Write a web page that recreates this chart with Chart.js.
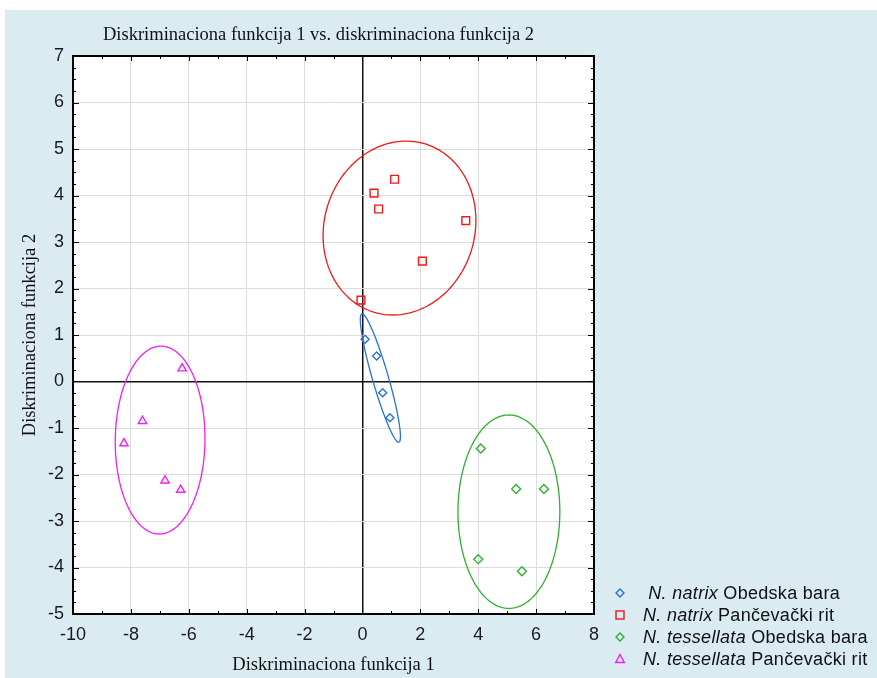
<!DOCTYPE html>
<html>
<head>
<meta charset="utf-8">
<script src="https://cdn.jsdelivr.net/npm/chart.js@4.4.1/dist/chart.umd.min.js"></script>
<style>
html, body { margin: 0; padding: 0; background: #fff; }
#okvir { position: relative; width: 877px; height: 678px; overflow: hidden; }
#grafik { position: absolute; left: 0; top: 0; }
#naslov { position: absolute; left: 103px; top: 24px; font: 18.5px "Liberation Serif", "Times New Roman", serif; line-height: 20px; color: #111; white-space: nowrap; }
#legenda { position: absolute; left: 613px; top: 582px; font: 18px "Liberation Sans", Arial, sans-serif; letter-spacing: 0.3px; color: #111; }
.stavka { height: 22px; line-height: 22px; white-space: pre; display: flex; align-items: center; }
.stavka svg { width: 14px; height: 14px; margin-right: 16px; flex: none; }
</style>
</head>
<body>
<div id="okvir">
  <canvas id="grafik" width="877" height="678"></canvas>
  <div id="naslov">Diskriminaciona funkcija 1 vs. diskriminaciona funkcija 2</div>
  <div id="legenda"></div>
</div>
<script>
// grupe (vrsta u kurzivu + lokalitet)
var vrste = ['N. natrix', 'N. natrix', 'N. tessellata', 'N. tessellata'];
var lokaliteti = ['Obedska bara', 'Pančevački rit', 'Obedska bara', 'Pančevački rit'];
var boje = ['#2a70d6', '#f01818', '#30b030', '#f41cf4'];
var oblici = ['rectRot', 'rect', 'rectRot', 'triangle'];

// skorovi diskriminacionih funkcija
var natrixObedskaX = [0.09, 0.49, 0.70, 0.95];
var natrixObedskaY = [0.91, 0.55, -0.24, -0.78];
var natrixPancevoX = [1.11, 0.40, 0.56, 3.57, 2.07, -0.05];
var natrixPancevoY = [4.35, 4.05, 3.71, 3.46, 2.59, 1.75];
var tessellataObedskaX = [4.09, 5.31, 6.27, 4.00, 5.51];
var tessellataObedskaY = [-1.44, -2.31, -2.31, -3.82, -4.08];
var tessellataPancevoX = [-6.23, -7.60, -8.24, -6.82, -6.28];
var tessellataPancevoY = [0.28, -0.85, -1.33, -2.13, -2.33];

// elipse: centar i dve poluose (u jedinicama funkcija)
var elipsaCentar = [[0.62, 0.075], [1.28, 3.30], [5.06, -2.80], [-6.99, -1.26]];
var elipsaOsaU = [[-0.64, 1.38], [2.63, 0], [1.76, 0], [1.55, 0]];
var elipsaOsaV = [[0.266, 0.047], [0.23, 1.87], [0, 2.08], [0.03, 2.02]];

// ose
var xMin = -10, xMax = 8, xKorak = 2;
var yMin = -5, yMax = 7, yKorak = 1;

var sviX = [natrixObedskaX, natrixPancevoX, tessellataObedskaX, tessellataPancevoX];
var sviY = [natrixObedskaY, natrixPancevoY, tessellataObedskaY, tessellataPancevoY];
var poluprecnici = [4, 5.5, 4.5, 4.8];

var skupovi = sviX.map(function(xs, g) {
    return {
        label: vrste[g] + ' ' + lokaliteti[g],
        data: xs.map(function(x, i) { return { x: x, y: sviY[g][i] }; }),
        pointStyle: oblici[g],
        pointRadius: poluprecnici[g],
        pointHoverRadius: poluprecnici[g],
        pointBorderWidth: 1.4,
        borderColor: boje[g],
        backgroundColor: 'rgba(0,0,0,0)',
        showLine: false
    };
});

var pozadina = {
    id: 'pozadina',
    beforeDraw: function(chart) {
        var ctx = chart.ctx, a = chart.chartArea;
        ctx.save();
        ctx.fillStyle = '#ffffff';
        ctx.fillRect(0, 0, chart.width, chart.height);
        ctx.fillStyle = '#daebf2';
        ctx.fillRect(5, 10, chart.width - 5, chart.height - 10);
        ctx.fillStyle = '#ffffff';
        ctx.fillRect(a.left, a.top, a.right - a.left, a.bottom - a.top);
        ctx.restore();
    }
};

var elipse = {
    id: 'elipse',
    beforeDatasetsDraw: function(chart) {
        var ctx = chart.ctx, sx = chart.scales.x, sy = chart.scales.y, a = chart.chartArea;
        ctx.save();
        ctx.beginPath();
        ctx.rect(a.left, a.top, a.right - a.left, a.bottom - a.top);
        ctx.clip();
        ctx.lineWidth = 1.3;
        elipsaCentar.forEach(function(c, g) {
            var u = elipsaOsaU[g], v = elipsaOsaV[g];
            ctx.strokeStyle = boje[g];
            ctx.beginPath();
            for (var k = 0; k <= 180; k++) {
                var t = k / 180 * Math.PI * 2;
                var x = c[0] + Math.cos(t) * u[0] + Math.sin(t) * v[0];
                var y = c[1] + Math.cos(t) * u[1] + Math.sin(t) * v[1];
                var px = sx.getPixelForValue(x), py = sy.getPixelForValue(y);
                if (k === 0) ctx.moveTo(px, py); else ctx.lineTo(px, py);
            }
            ctx.closePath();
            ctx.stroke();
        });
        ctx.restore();
    }
};

var okvirOsa = {
    id: 'okvirOsa',
    afterDraw: function(chart) {
        var ctx = chart.ctx, sx = chart.scales.x, sy = chart.scales.y, a = chart.chartArea;
        ctx.save();
        ctx.strokeStyle = '#000';
        ctx.lineWidth = 1;
        ctx.beginPath();
        for (var x = xMin; x <= xMax; x++) {
            var px = Math.round(sx.getPixelForValue(x)) + 0.5;
            var d = (x % 2 === 0) ? 5 : 3;
            ctx.moveTo(px, a.bottom); ctx.lineTo(px, a.bottom - d);
            ctx.moveTo(px, a.top); ctx.lineTo(px, a.top + d);
        }
        for (var y = yMin; y <= yMax; y += 0.25) {
            var py = Math.round(sy.getPixelForValue(y)) + 0.5;
            var e = (y % 1 === 0) ? 6 : 3;
            ctx.moveTo(a.left, py); ctx.lineTo(a.left + e, py);
            ctx.moveTo(a.right, py); ctx.lineTo(a.right - e, py);
        }
        ctx.stroke();
        ctx.lineWidth = 2;
        ctx.strokeRect(a.left, a.top, a.right - a.left, a.bottom - a.top);
        ctx.restore();
    }
};

var fontOsa = { family: '"Liberation Sans", Arial, sans-serif', size: 18 };
var fontNaslov = { family: '"Liberation Serif", "Times New Roman", serif', size: 18.5 };

function bojaMreze(c) { return c.tick && c.tick.value === 0 ? '#111' : '#dcdcdc'; }
function debljinaMreze(c) { return c.tick && c.tick.value === 0 ? 1.5 : 1; }

new Chart(document.getElementById('grafik').getContext('2d'), {
    type: 'scatter',
    data: { datasets: skupovi },
    options: {
        responsive: false,
        animation: false,
        layout: { padding: { top: 56, right: 283, bottom: 0, left: 0 } },
        plugins: { legend: { display: false }, tooltip: { enabled: false }, title: { display: false } },
        scales: {
            x: {
                type: 'linear', position: 'bottom', min: xMin, max: xMax,
                afterFit: function(s) { s.height = 64; },
                ticks: { stepSize: xKorak, font: fontOsa, color: '#1a1a1a', padding: 10, maxRotation: 0, autoSkip: false },
                grid: { drawTicks: false, color: bojaMreze, lineWidth: debljinaMreze },
                border: { display: false },
                title: { display: true, text: 'Diskriminaciona funkcija 1', font: fontNaslov, color: '#111', padding: { top: 0, bottom: 2 } }
            },
            y: {
                type: 'linear', position: 'left', min: yMin, max: yMax,
                afterFit: function(s) { s.width = 73; },
                ticks: { stepSize: yKorak, font: fontOsa, color: '#1a1a1a', padding: 9, autoSkip: false },
                grid: { drawTicks: false, color: bojaMreze, lineWidth: debljinaMreze },
                border: { display: false },
                title: { display: true, text: 'Diskriminaciona funkcija 2', font: fontNaslov, color: '#111', padding: { top: 19, bottom: 0 } }
            }
        }
    },
    plugins: [pozadina, elipse, okvirOsa]
});

// legenda sa kurzivnim imenom vrste
var svgOblik = {
    rectRot: '<polygon points="7,3 11,7 7,11 3,7"/>',
    rect: '<rect x="3" y="3" width="8" height="8"/>',
    triangle: '<polygon points="7,2.5 11.3,10.5 2.7,10.5"/>'
};
var legenda = document.getElementById('legenda');
vrste.forEach(function(v, g) {
    var red = document.createElement('div');
    red.className = 'stavka';
    red.innerHTML = '<svg viewBox="0 0 14 14"><g fill="none" stroke="' + boje[g] + '" stroke-width="1.4">' +
        svgOblik[oblici[g]] + '</g></svg>' +
        '<span>' + (g === 0 ? ' ' : '') + '<i>' + v + '</i> ' + lokaliteti[g] + '</span>';
    legenda.appendChild(red);
});
</script>
</body>
</html>
